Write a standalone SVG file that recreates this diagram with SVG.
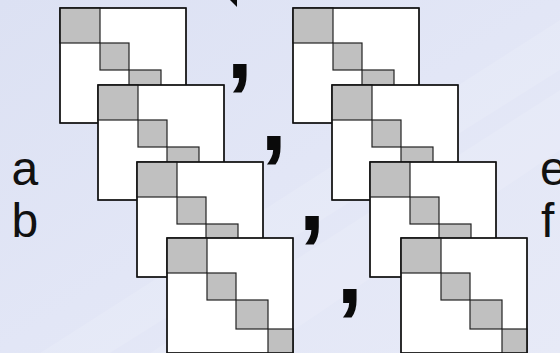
<svg xmlns="http://www.w3.org/2000/svg" xmlns:xlink="http://www.w3.org/1999/xlink" width="560" height="353" viewBox="0 0 560 353">
  <style>
    .frame { fill: #ffffff; stroke: #111111; stroke-width: 1.3; }
    .blk { fill: #c0c0c0; stroke: #222222; stroke-width: 1.2; }
    .lbl { font-family: "Liberation Sans", Arial, sans-serif; font-size: 48px; fill: #111111; }
    .cm { font-family: "Liberation Sans", Arial, sans-serif; font-weight: bold; font-size: 95px; fill: #0a0a0a; }
  </style>
  <defs>
    <linearGradient id="bg" x1="0" y1="0" x2="1" y2="1">
      <stop offset="0" stop-color="#dce1f3"/>
      <stop offset="0.5" stop-color="#e2e6f6"/>
      <stop offset="1" stop-color="#e7eaf7"/>
    </linearGradient>
    <g id="mat">
      <rect class="frame" x="0" y="0" width="126" height="115"/>
      <rect class="blk" x="0" y="0" width="40" height="35"/>
      <rect class="blk" x="40" y="35" width="29" height="27"/>
      <rect class="blk" x="69" y="62" width="32" height="29"/>
      <rect class="blk" x="101" y="91" width="25" height="24"/>
      <rect x="0" y="0" width="126" height="115" fill="none" stroke="#111111" stroke-width="1.3"/>
    </g>
  </defs>
  <rect width="560" height="353" fill="url(#bg)"/>
  <polygon points="40,353 110,353 560,70 560,20" fill="#ffffff" opacity="0.12"/>
  <polygon points="150,353 260,353 560,150 560,90" fill="#ffffff" opacity="0.12"/>
  <polygon points="230,0 237,0 237,7" fill="#0a0a0a"/>

  <g id="left-m1"><use xlink:href="#mat" x="60" y="8"/></g>
  <g id="left-m2"><use xlink:href="#mat" x="98" y="85"/></g>
  <g id="left-m3"><use xlink:href="#mat" x="137" y="162"/></g>
  <g id="left-m4"><use xlink:href="#mat" x="167" y="238"/></g>

  <g id="right-m1"><use xlink:href="#mat" x="293" y="8"/></g>
  <g id="right-m2"><use xlink:href="#mat" x="332" y="85"/></g>
  <g id="right-m3"><use xlink:href="#mat" x="370" y="162"/></g>
  <g id="right-m4"><use xlink:href="#mat" x="401" y="238"/></g>

  <g id="commas">
    <text class="cm" x="226.4" y="77.8">,</text>
    <text class="cm" x="260.4" y="150.2">,</text>
    <text class="cm" x="298.7" y="230.2">,</text>
    <text class="cm" x="336.4" y="302.8">,</text>
  </g>

  <g id="labels">
    <text class="lbl" x="11.5" y="185">a</text>
    <text class="lbl" x="11.5" y="236.5">b</text>
    <text class="lbl" x="540" y="185">e</text>
    <text class="lbl" x="541" y="236.5">f</text>
  </g>
  <g id="connectors"/>
</svg>
